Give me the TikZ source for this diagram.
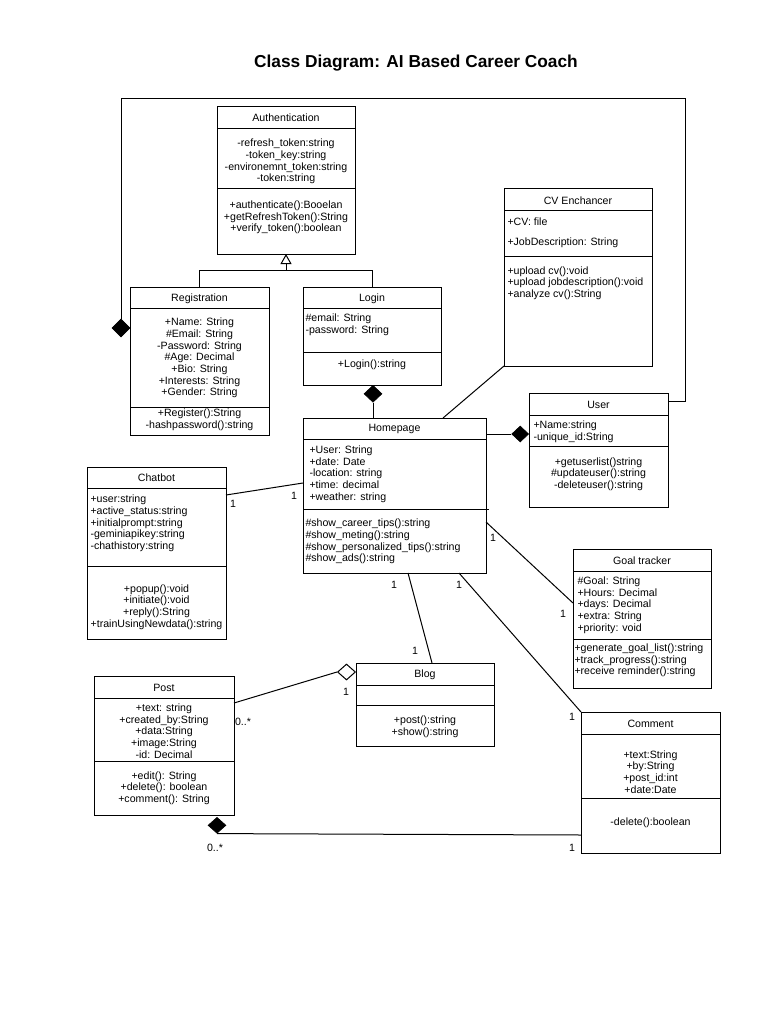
\documentclass[tikz,border=0pt]{standalone}
\usepackage{fontspec}
\setmainfont{Liberation Sans}
\usetikzlibrary{arrows.meta,shapes.geometric}
\begin{document}
\begin{tikzpicture}[x=1pt,y=-1pt,line width=1pt,
  cls/.style={draw, line width=1pt, inner sep=0, outer sep=0, anchor=north west},
  txtc/.style={font=\fontsize{10.6}{11.7}\selectfont, inner sep=0, align=center, yshift=-1pt},
  txtl/.style={font=\fontsize{10.6}{11.7}\selectfont, inner sep=0, align=left, anchor=west, yshift=-1pt},
  fdia/.style={diamond, fill=black, draw=black, inner sep=0, minimum width=18pt, minimum height=18pt, line width=0.6pt},
  hdia/.style={diamond, fill=white, draw=black, inner sep=0, minimum width=18pt, minimum height=16pt, line width=1pt},
  sep/.style={line width=1pt},
  conn/.style={line width=1pt},
]
\useasboundingbox[fill=white] (0,0) rectangle (768,1024);

% title
\node[inner sep=0, yshift=-1.5pt, font=\fontsize{17.3}{20}\selectfont\bfseries] (title) at (416,62) {Class Diagram: AI Based Career Coach};

% ---------- Authentication
\node[cls, minimum width=138pt, minimum height=147pt] (auth) at (217,107) {};
\draw[sep] (217,129) -- (355,129);
\draw[sep] (217,189) -- (355,189);
\node[txtc] (authT) at (286,117) {Authentication};
\node[txtc] (authA) at (286,160.5) {-refresh\_token:string\\-token\_key:string\\-environemnt\_token:string\\-token:string};
\node[txtc] (authM) at (286,216.5) {+authenticate():Booelan\\+getRefreshToken():String\\+verify\_token():boolean};

% ---------- Registration
\node[cls, minimum width=139pt, minimum height=148pt] (reg) at (130,287) {};
\draw[sep] (130,308) -- (269,308);
\draw[sep] (130,407) -- (269,407);
\node[txtc] (regT) at (199.5,298) {Registration};
\node[txtc] (regA) at (199.5,357) {+Name: String\\\#Email: String\\-Password: String\\\#Age: Decimal\\+Bio: String\\+Interests: String\\+Gender: String};
\node[txtc] (regM) at (199.5,418.5) {+Register():String\\-hashpassword():string};

% ---------- Login
\node[cls, minimum width=138pt, minimum height=98pt] (login) at (303,287) {};
\draw[sep] (303,308) -- (441,308);
\draw[sep] (303,352) -- (441,352);
\node[txtc] (loginT) at (372,298) {Login};
\node[txtl] (loginA) at (305,324) {\#email: String\\-password: String};
\node[txtc] (loginM) at (372,364) {+Login():string};

% ---------- CV Enchancer
\node[cls, minimum width=148pt, minimum height=177pt] (cv) at (504,189) {};
\draw[sep] (504,211) -- (652,211);
\draw[sep] (504,256) -- (652,256);
\node[txtc] (cvT) at (578,200) {CV Enchancer};
\node[txtl] (cvA1) at (507,221) {+CV: file};
\node[txtl] (cvA2) at (507,242) {+JobDescription: String};
\node[txtl] (cvM) at (507,282) {+upload cv():void\\+upload jobdescription():void\\+analyze cv():String};

% ---------- User
\node[cls, minimum width=139pt, minimum height=114pt] (user) at (529,393) {};
\draw[sep] (529,415) -- (668,415);
\draw[sep] (529,446) -- (668,446);
\node[txtc] (userT) at (598.5,404) {User};
\node[txtl] (userA) at (533,431) {+Name:string\\-unique\_id:String};
\node[txtc] (userM) at (598.5,473) {+getuserlist()string\\\#updateuser():string\\-deleteuser():string};

% ---------- Homepage
\node[cls, minimum width=183pt, minimum height=155pt] (home) at (303,418) {};
\draw[sep] (303,439) -- (486,439);
\draw[sep] (303,509) -- (489,509);
\node[txtc] (homeT) at (394.5,428) {Homepage};
\node[txtl] (homeA) at (309,473) {+User: String\\+date: Date\\-location: string\\+time: decimal\\+weather: string};
\node[txtl] (homeM) at (305,540.5) {\#show\_career\_tips():string\\\#show\_meting():string\\\#show\_personalized\_tips():string\\\#show\_ads():string};

% ---------- Chatbot
\node[cls, minimum width=139pt, minimum height=172pt] (chat) at (87,467) {};
\draw[sep] (87,488) -- (226,488);
\draw[sep] (87,566) -- (226,566);
\node[txtc] (chatT) at (156.5,477) {Chatbot};
\node[txtl] (chatA) at (90,522.5) {+user:string\\+active\_status:string\\+initialprompt:string\\-geminiapikey:string\\-chathistory:string};
\node[txtc] (chatM) at (156.5,606) {+popup():void\\+initiate():void\\+reply():String\\+trainUsingNewdata():string};

% ---------- Goal tracker
\node[cls, minimum width=138pt, minimum height=139pt] (goal) at (573,549) {};
\draw[sep] (573,571) -- (711,571);
\draw[sep] (573,639) -- (711,639);
\node[txtc] (goalT) at (642,560) {Goal tracker};
\node[txtl] (goalA) at (577,604) {\#Goal: String\\+Hours: Decimal\\+days: Decimal\\+extra: String\\+priority: void};
\node[txtl] (goalM) at (574,659.5) {+generate\_goal\_list():string\\+track\_progress():string\\+receive reminder():string};

% ---------- Post
\node[cls, minimum width=140pt, minimum height=139pt] (post) at (94,676) {};
\draw[sep] (94,698) -- (234,698);
\draw[sep] (94,761) -- (234,761);
\node[txtc] (postT) at (164,687) {Post};
\node[txtc] (postA) at (164,730) {+text: string\\+created\_by:String\\+data:String\\+image:String\\-id: Decimal};
\node[txtc] (postM) at (164,787) {+edit(): String\\+delete(): boolean\\+comment(): String};

% ---------- Blog
\node[cls, minimum width=138pt, minimum height=83pt] (blog) at (356,663) {};
\draw[sep] (356,685) -- (494,685);
\draw[sep] (356,705) -- (494,705);
\node[txtc] (blogT) at (425,674) {Blog};
\node[txtc] (blogM) at (425,726) {+post():string\\+show():string};

% ---------- Comment
\node[cls, minimum width=139pt, minimum height=141pt] (comment) at (581,712) {};
\draw[sep] (581,734) -- (720,734);
\draw[sep] (581,798) -- (720,798);
\node[txtc] (comT) at (650.5,723) {Comment};
\node[txtc] (comA) at (650.5,771) {+text:String\\+by:String\\+post\_id:int\\+date:Date};
\node[txtc] (comM) at (650.5,822) {-delete():boolean};

% ---------- connectors
% inheritance
\draw[conn] (reg.north) -- ++(0,-17) -| (login.north);
\draw[conn,-{Triangle[open,length=10pt,width=11pt]}] ([yshift=-16pt]auth.south) -- (auth.south);

% User -- Registration (composition)
\node[fdia] (d1) at ([xshift=-9pt,yshift=-41pt]reg.north west) {};
\draw[conn] ([yshift=-8pt]user.north east) -| (685,99) -| (d1.north);

% Login -- Homepage
\node[fdia, minimum height=17pt, anchor=north] (d2) at ([xshift=1pt]login.south) {};
\draw[conn] (d2.south) -- (d2.south |- home.north);

% Homepage -- User
\node[fdia, minimum width=17pt, minimum height=16pt, anchor=east] (d3) at ([yshift=-41pt]user.north west) {};
\draw[conn] (d3.west) -- (d3.west -| home.east);

% Homepage -- CV
\draw[conn] ([xshift=140pt]home.north west) -- (cv.south west);

% Chatbot -- Homepage
\draw[conn] ([yshift=-28pt]chat.north east) -- ([yshift=-65pt]home.north west);
\node[txtc] (l1) at (233,503) {1};
\node[txtc] (l2) at (294,495) {1};

% Homepage -- Goal tracker
\draw[conn] ([yshift=-104pt]home.north east) -- ([yshift=-54pt]goal.north west);
\node[txtc] (l3) at (493,537) {1};
\node[txtc] (l4) at (563,613) {1};

% Homepage -- Comment
\draw[conn] ([xshift=156pt]home.south west) -- (comment.north west);
\node[txtc] (l5) at (459,584) {1};
\node[txtc] (l6) at (572,716) {1};

% Homepage -- Blog
\draw[conn] ([xshift=105pt]home.south west) -- ([xshift=76pt]blog.north west);
\node[txtc] (l7) at (394,584) {1};
\node[txtc] (l8) at (415,650) {1};

% Blog -- Post (aggregation)
\node[hdia, anchor=east] (d4) at ([yshift=-9pt]blog.north west) {};
\draw[conn] (d4.west) -- ([yshift=-27pt]post.north east);
\node[txtc] (l9) at (346,691) {1};
\node[txtc] (l10) at (243,721) {0..*};

% Post -- Comment (composition)
\node[fdia, minimum height=16pt, anchor=north] (d5) at ([xshift=123pt,yshift=-2pt]post.south west) {};
\draw[conn] (d5.south) -- ([yshift=18pt]comment.south west);
\node[txtc] (l11) at (215,847) {0..*};
\node[txtc] (l12) at (572,847) {1};
\end{tikzpicture}
\end{document}
